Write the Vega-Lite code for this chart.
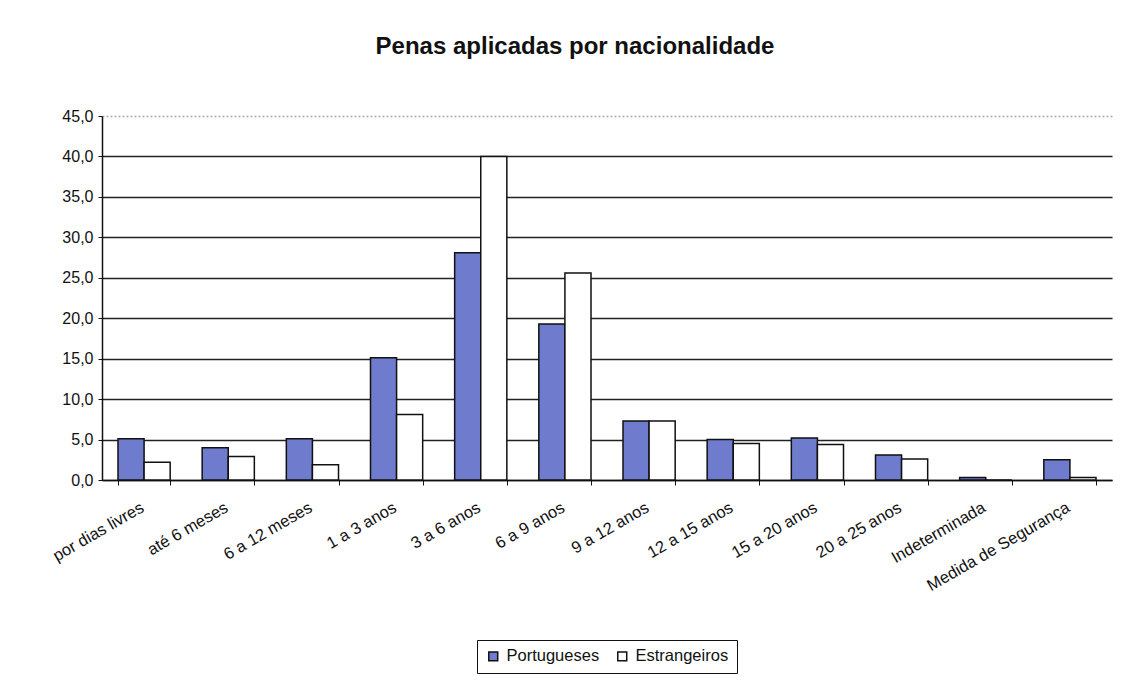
{
  "$schema": "https://vega.github.io/schema/vega-lite/v6.json",
  "width": 1010,
  "height": 364,
  "autosize": "none",
  "padding": {"left": 102, "top": 116, "right": 18, "bottom": 197},
  "background": "white",
  "title": {
    "text": "Penas aplicadas por nacionalidade",
    "font": "Liberation Sans",
    "fontSize": 24,
    "fontWeight": "bold",
    "color": "#111",
    "anchor": "middle",
    "dx": -32,
    "offset": 49
  },
  "data": {
    "values": [
      {"pena": "por dias livres", "nac": "Portugueses", "v": 5.1},
      {"pena": "por dias livres", "nac": "Estrangeiros", "v": 2.2},
      {"pena": "até 6 meses", "nac": "Portugueses", "v": 4.0},
      {"pena": "até 6 meses", "nac": "Estrangeiros", "v": 2.9},
      {"pena": "6 a 12 meses", "nac": "Portugueses", "v": 5.1},
      {"pena": "6 a 12 meses", "nac": "Estrangeiros", "v": 1.9},
      {"pena": "1 a 3 anos", "nac": "Portugueses", "v": 15.1},
      {"pena": "1 a 3 anos", "nac": "Estrangeiros", "v": 8.1},
      {"pena": "3 a 6 anos", "nac": "Portugueses", "v": 28.1},
      {"pena": "3 a 6 anos", "nac": "Estrangeiros", "v": 40.0},
      {"pena": "6 a 9 anos", "nac": "Portugueses", "v": 19.3},
      {"pena": "6 a 9 anos", "nac": "Estrangeiros", "v": 25.6},
      {"pena": "9 a 12 anos", "nac": "Portugueses", "v": 7.3},
      {"pena": "9 a 12 anos", "nac": "Estrangeiros", "v": 7.3},
      {"pena": "12 a 15 anos", "nac": "Portugueses", "v": 5.0},
      {"pena": "12 a 15 anos", "nac": "Estrangeiros", "v": 4.5},
      {"pena": "15 a 20 anos", "nac": "Portugueses", "v": 5.2},
      {"pena": "15 a 20 anos", "nac": "Estrangeiros", "v": 4.4},
      {"pena": "20 a 25 anos", "nac": "Portugueses", "v": 3.1},
      {"pena": "20 a 25 anos", "nac": "Estrangeiros", "v": 2.6},
      {"pena": "Indeterminada", "nac": "Portugueses", "v": 0.3},
      {"pena": "Indeterminada", "nac": "Estrangeiros", "v": 0.0},
      {"pena": "Medida de Segurança", "nac": "Portugueses", "v": 2.5},
      {"pena": "Medida de Segurança", "nac": "Estrangeiros", "v": 0.3}
    ]
  },
  "mark": {"type": "bar", "stroke": "#111", "strokeWidth": 1.5},
  "encoding": {
    "x": {
      "field": "pena",
      "type": "nominal",
      "sort": null,
      "scale": {"paddingInner": 0.38, "paddingOuter": 0.19},
      "axis": {
        "title": null,
        "labelAngle": -30,
        "labelFont": "Liberation Sans",
        "labelFontSize": 16.5,
        "labelColor": "#111",
        "labelPadding": 14,
        "labelOffset": -6,
        "tickBand": "extent",
        "tickSize": 5,
        "tickColor": "#111",
        "domainColor": "#111",
        "domainWidth": 1.5,
        "grid": false
      }
    },
    "xOffset": {"field": "nac", "type": "nominal", "sort": ["Portugueses", "Estrangeiros"], "scale": {"paddingInner": 0}},
    "y": {
      "field": "v",
      "type": "quantitative",
      "scale": {"domain": [0, 45], "nice": false},
      "axis": {
        "title": null,
        "values": [0, 5, 10, 15, 20, 25, 30, 35, 40, 45],
        "labelExpr": "replace(format(datum.value, '.1f'), '.', ',')",
        "labelFont": "Liberation Sans",
        "labelFontSize": 16,
        "labelColor": "#111",
        "labelPadding": 5,
        "tickSize": 4,
        "tickColor": "#111",
        "domainColor": "#111",
        "domainWidth": 1.5,
        "grid": true,
        "gridColor": {"condition": {"test": "datum.value === 45", "value": "#aaa"}, "value": "#222"},
        "gridDash": {"condition": {"test": "datum.value === 45", "value": [2, 2]}, "value": []},
        "gridWidth": 1.3
      }
    },
    "fill": {
      "field": "nac",
      "type": "nominal",
      "sort": ["Portugueses", "Estrangeiros"],
      "scale": {"domain": ["Portugueses", "Estrangeiros"], "range": ["#6f7bcc", "#ffffff"]},
      "legend": {
        "title": null,
        "orient": "none",
        "direction": "horizontal",
        "legendX": 375,
        "legendY": 524,
        "symbolType": "square",
        "symbolSize": 80,
        "symbolStrokeColor": "#111",
        "symbolStrokeWidth": 1.5,
        "labelFont": "Liberation Sans",
        "labelFontSize": 16.5,
        "labelColor": "#111",
        "columnPadding": 14,
        "labelOffset": 5,
        "strokeColor": "#111",
        "padding": 8
      }
    }
  },
  "config": {"view": {"stroke": null}}
}
